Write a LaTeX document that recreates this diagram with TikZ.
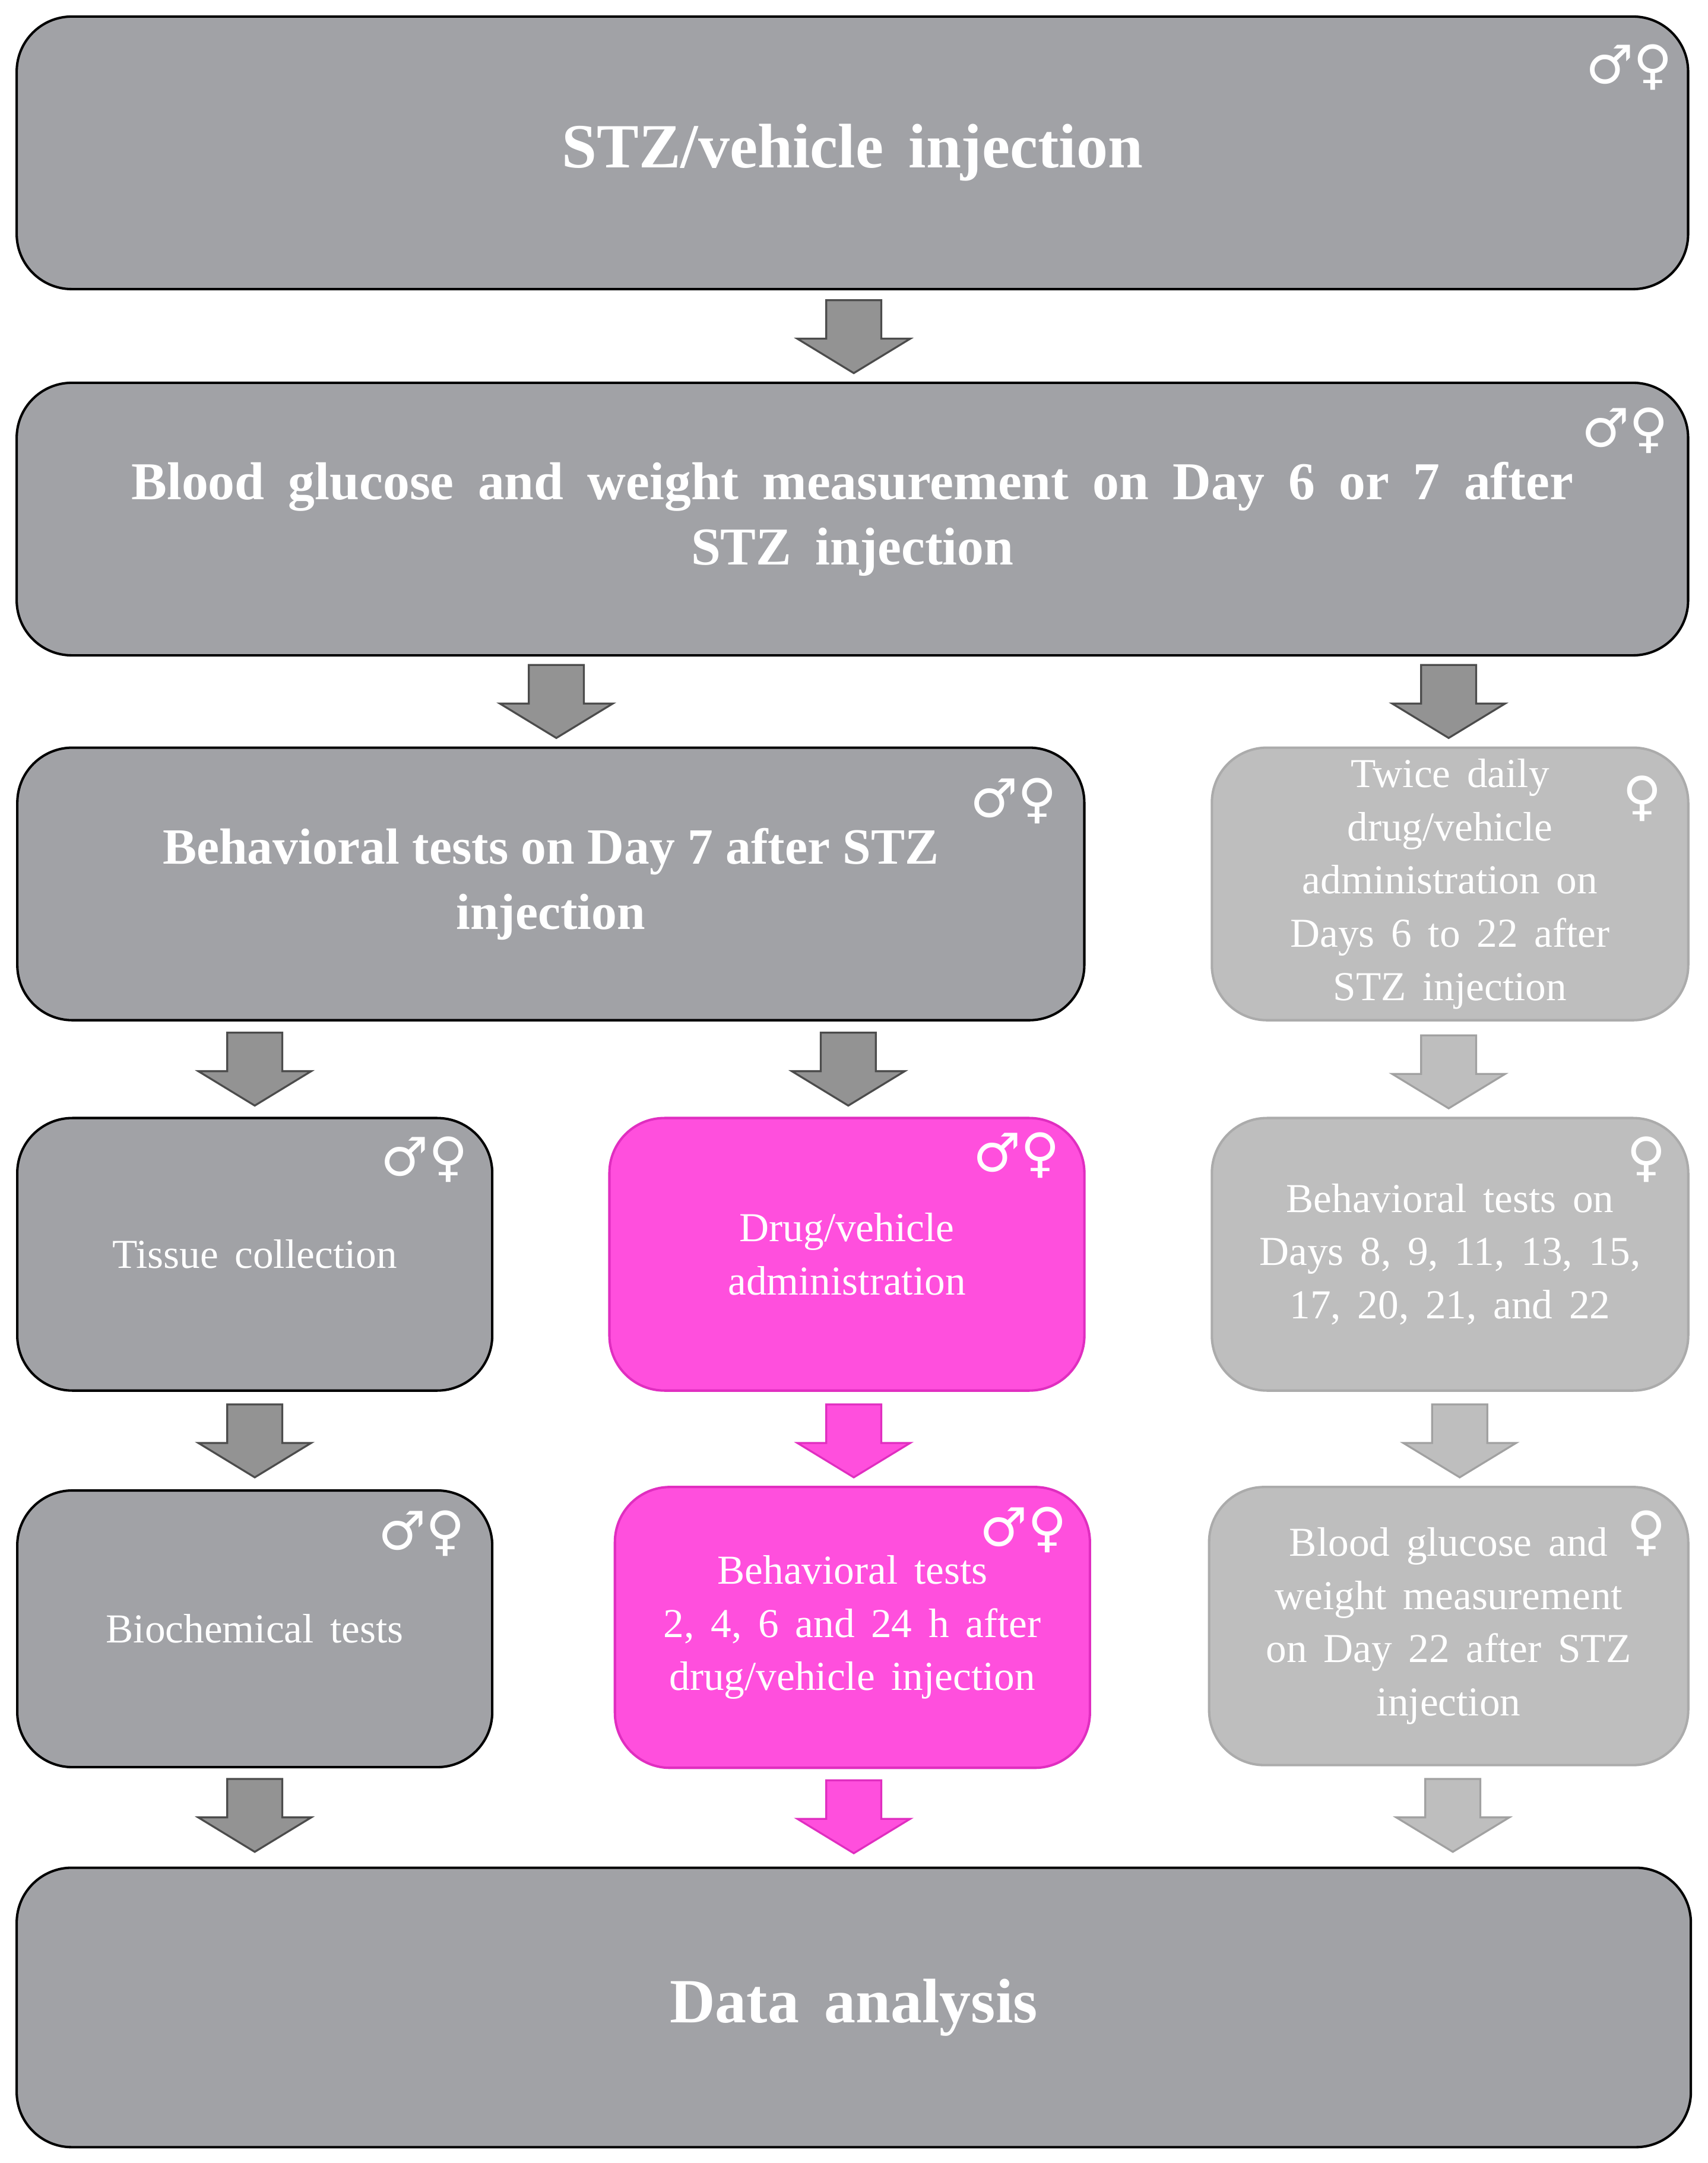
\documentclass[tikz,border=0pt]{standalone}
\usepackage{fontspec}
\setmainfont{Liberation Serif}
\newfontfamily\symfont{DejaVu Sans}
\usetikzlibrary{positioning}
\definecolor{darkbox}{HTML}{A1A2A6}
\definecolor{lightbox}{HTML}{BEBEBE}
\definecolor{pinkbox}{HTML}{FF4FDD}
\definecolor{pinkline}{HTML}{E02EC0}
\newcommand{\mf}{{\symfont\fontsize{22}{22}\selectfont\char"2642\char"2640}}
\newcommand{\fe}{{\symfont\fontsize{22}{22}\selectfont\char"2640}}
\newcommand{\wide}[1]{\spaceskip=#1\relax}
\begin{document}
\begin{tikzpicture}[x=0.02cm,y=-0.02cm,
    box/.style={draw=black,line width=1pt,rounded corners=0.8cm,fill=darkbox,text=white,align=center,inner sep=0pt},
    lbox/.style={box,draw=lightbox!90!black,fill=lightbox},
    pbox/.style={box,draw=pinkline,fill=pinkbox},
    big/.style={font=\bfseries\fontsize{26}{30}\selectfont\wide{0.4em}},
    mid/.style={font=\bfseries\fontsize{22}{27}\selectfont\wide{0.45em}},
    small/.style={font=\fontsize{17}{22}\selectfont\wide{0.4em}},
    down/.style={draw=black!70,fill=gray!85,line width=0.8pt,line join=miter},
    ldown/.style={down,draw=lightbox!85!black,fill=lightbox},
    pdown/.style={down,draw=pinkline,fill=pinkbox},
    sex/.style={text=white,anchor=north east,inner sep=0pt},
    pics/blockarrow/.style={code={
        \path[#1] (-20,-26) -- (20,-26) -- (20,2) -- (41,2) -- (0,27) -- (-41,2) -- (-20,2) -- cycle;}}]
\useasboundingbox (0,0) rectangle (1240,1571);

\node[box,big,minimum width=24.28cm,minimum height=3.96cm] (inj) at (619,111) {STZ/vehicle injection};
\node[box,mid,minimum width=24.28cm,minimum height=3.96cm] (glu) at (619,377)
    {Blood glucose and weight measurement on Day 6 or 7 after\\STZ injection};
\node[box,minimum width=15.5cm,minimum height=3.96cm,font=\bfseries\fontsize{21}{27}\selectfont] (beh) at (400,642)
    {Behavioral tests on Day 7 after STZ\\injection};
\node[lbox,small,minimum width=6.92cm,minimum height=3.96cm] (twice) at (1053,642)
    {Twice daily\\drug/vehicle\\administration on\\Days 6 to 22 after\\STZ injection};
\node[box,small,minimum width=6.9cm,minimum height=3.96cm] (tis) at (185,911) {Tissue collection};
\node[pbox,small,minimum width=6.9cm,minimum height=3.96cm] (drug) at (615,911) {Drug/vehicle\\administration};
\node[lbox,small,minimum width=6.92cm,minimum height=3.96cm] (btf) at (1053,911)
    {Behavioral tests on\\Days 8, 9, 11, 13, 15,\\17, 20, 21, and 22};
\node[box,small,minimum width=6.9cm,minimum height=4.02cm] (bio) at (185,1183) {Biochemical tests};
\node[pbox,small,minimum width=6.9cm,minimum height=4.08cm] (btp) at (619,1182)
    {Behavioral tests\\2, 4, 6 and 24 h after\\drug/vehicle injection};
\node[lbox,small,minimum width=6.96cm,minimum height=4.04cm] (bgf) at (1052,1181)
    {Blood glucose and\\weight measurement\\on Day 22 after STZ\\injection};
\node[box,big,minimum width=24.32cm,minimum height=4.06cm] (data) at (620,1458) {Data analysis};

% sex symbols
\node[sex] at (1215,32) {\mf};
\node[sex] at (1212,296) {\mf};
\node[sex] at (768,565) {\mf};
\node[sex] at (1207,563) {\fe};
\node[sex] at (340,825) {\mf};
\node[sex] at (770,822) {\mf};
\node[sex] at (1210,825) {\fe};
\node[sex] at (338,1097) {\mf};
\node[sex] at (775,1094) {\mf};
\node[sex] at (1210,1097) {\fe};

% arrows
\pic at (620,244) {blockarrow=down};
\pic at (404,509) {blockarrow=down};
\pic at (1052,509) {blockarrow=down};
\pic at (185,776) {blockarrow=down};
\pic at (616,776) {blockarrow=down};
\pic at (1052,778) {blockarrow=ldown};
\pic at (185,1046) {blockarrow=down};
\pic at (620,1046) {blockarrow=pdown};
\pic at (1060,1046) {blockarrow=ldown};
\pic at (185,1318) {blockarrow=down};
\pic at (620,1319) {blockarrow=pdown};
\pic at (1055,1318) {blockarrow=ldown};
\end{tikzpicture}
\end{document}
